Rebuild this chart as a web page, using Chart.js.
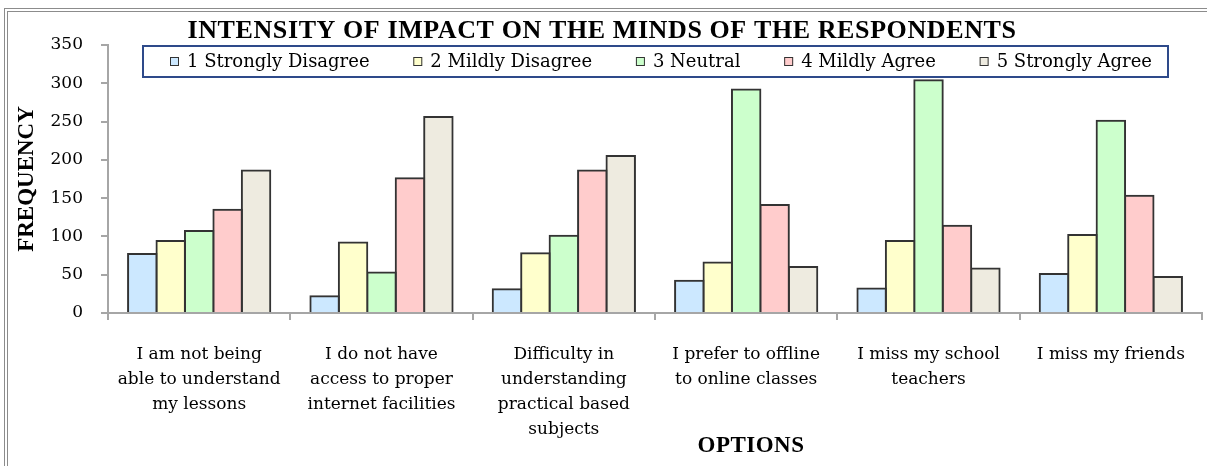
<!DOCTYPE html>
<html>
<head>
<meta charset="utf-8">
<script src="https://cdn.jsdelivr.net/npm/chart.js@4.4.0/dist/chart.umd.min.js"></script>
<style>
  html, body { margin: 0; padding: 0; background: #fff; }
  #wrap { position: relative; width: 1207px; height: 466px; overflow: hidden; }
  #frame { position: absolute; left: 4px; top: 8px; width: 1300px; height: 600px;
           border-top: 4px double #8c8c8c; border-left: 4px double #8c8c8c; }
  canvas { position: absolute; left: 0; top: 0; }
</style>
</head>
<body>
<div id="wrap">
  <div id="frame"></div>
  <canvas id="myChart" width="1207" height="466"></canvas>
</div>
<script>
// chart data
const categories = [
  ["I am not being", "able to understand", "my lessons"],
  ["I do not have", "access to proper", "internet facilities"],
  ["Difficulty in", "understanding", "practical based", "subjects"],
  ["I prefer to offline", "to online classes"],
  ["I miss my school", "teachers"],
  ["I miss my friends"]
]
const seriesNames = ["1 Strongly Disagree", "2 Mildly Disagree", "3 Neutral", "4 Mildly Agree", "5 Strongly Agree"]
const stronglyDisagree = [77, 22, 31, 42, 32, 51]
const mildlyDisagree = [94, 92, 78, 66, 94, 102]
const neutral = [107, 53, 101, 292, 304, 251]
const mildlyAgree = [135, 176, 186, 141, 114, 153]
const stronglyAgree = [186, 256, 205, 60, 58, 47]
const yTicks = [0, 50, 100, 150, 200, 250, 300, 350]

const chartTitle = "INTENSITY OF IMPACT ON THE MINDS OF THE RESPONDENTS"
const yTitle = "FREQUENCY"
const xTitle = "OPTIONS"

const colors = ["#cce8ff", "#ffffcc", "#ccffcc", "#ffcccc", "#eeebe0"]
const serif = "'DejaVu Serif', serif"
const titleFont = "'Liberation Serif', 'Times New Roman', serif"

const allSeries = [stronglyDisagree, mildlyDisagree, neutral, mildlyAgree, stronglyAgree]

// title, x title and boxed legend drawn on top of the chart
const extras = {
  id: "extras",
  afterDraw(chart) {
    const ctx = chart.ctx
    ctx.save()
    ctx.fillStyle = "#000"
    ctx.textBaseline = "middle"
    ctx.textAlign = "center"
    ctx.font = "bold 26px " + titleFont
    ctx.letterSpacing = "0.6px"
    ctx.fillText(chartTitle, 602, 31)
    ctx.letterSpacing = "0.5px"
    ctx.font = "bold 23px " + titleFont
    ctx.fillText(xTitle, 751, 446)
    ctx.letterSpacing = "0px"

    // legend box
    const boxL = 143, boxR = 1168, boxT = 46, boxB = 77
    ctx.fillStyle = "#fff"
    ctx.fillRect(boxL, boxT, boxR - boxL, boxB - boxT)
    ctx.strokeStyle = "#2e4a8a"
    ctx.lineWidth = 2
    ctx.strokeRect(boxL, boxT, boxR - boxL, boxB - boxT)

    ctx.font = "18px " + serif
    ctx.textAlign = "left"
    const widths = seriesNames.map(n => 9 + 8 + ctx.measureText(n).width)
    const startX = 170, endX = 1152
    const gap = (endX - startX - widths.reduce((a, b) => a + b, 0)) / (widths.length - 1)
    let x = startX
    const cy = (boxT + boxB) / 2
    seriesNames.forEach((n, i) => {
      ctx.fillStyle = colors[i]
      ctx.fillRect(x, cy - 4.5, 9, 9)
      ctx.strokeStyle = "#333"
      ctx.lineWidth = 1
      ctx.strokeRect(x + 0.5, cy - 4, 8, 8)
      ctx.fillStyle = "#000"
      ctx.fillText(n, x + 17, cy + 1)
      x += widths[i] + gap
    })
    ctx.restore()
  }
}

const ctx = document.getElementById("myChart").getContext("2d")
const myChart = new Chart(ctx, {
  type: "bar",
  data: {
    labels: categories,
    datasets: allSeries.map((d, i) => ({
      label: seriesNames[i],
      data: d,
      backgroundColor: colors[i],
      borderColor: "#333",
      borderWidth: 2,
      borderSkipped: "bottom",
      inflateAmount: 1,
      categoryPercentage: 0.78,
      barPercentage: 1.0
    }))
  },
  options: {
    responsive: false,
    animation: false,
    layout: { padding: { top: 45, left: 0, right: 1, bottom: 0 } },
    plugins: {
      legend: { display: false },
      tooltip: { enabled: false }
    },
    scales: {
      x: {
        afterFit: (scale) => { scale.height = 153 },
        grid: { display: true, drawOnChartArea: false, drawTicks: true, tickLength: 7, color: "#a6a6a6", lineWidth: 2 },
        border: { display: true, color: "#a6a6a6", width: 2 },
        ticks: {
          color: "#000",
          padding: 22,
          maxRotation: 0,
          autoSkip: false,
          font: { family: serif, size: 17, lineHeight: 1.47 }
        }
      },
      y: {
        min: 0,
        max: 350,
        afterFit: (scale) => { scale.width = 108 },
        afterBuildTicks: (scale) => { scale.ticks = yTicks.map(v => ({ value: v })) },
        grid: { display: true, drawOnChartArea: false, drawTicks: true, tickLength: 7, color: "#a6a6a6", lineWidth: 2 },
        border: { display: true, color: "#a6a6a6", width: 2 },
        title: {
          display: true,
          text: yTitle,
          color: "#000",
          padding: { top: 13, bottom: 0 },
          font: { family: titleFont, size: 23, weight: "bold" }
        },
        ticks: {
          color: "#000",
          padding: 18,
          font: { family: serif, size: 17 }
        }
      }
    }
  },
  plugins: [extras]
})
</script>
</body>
</html>
